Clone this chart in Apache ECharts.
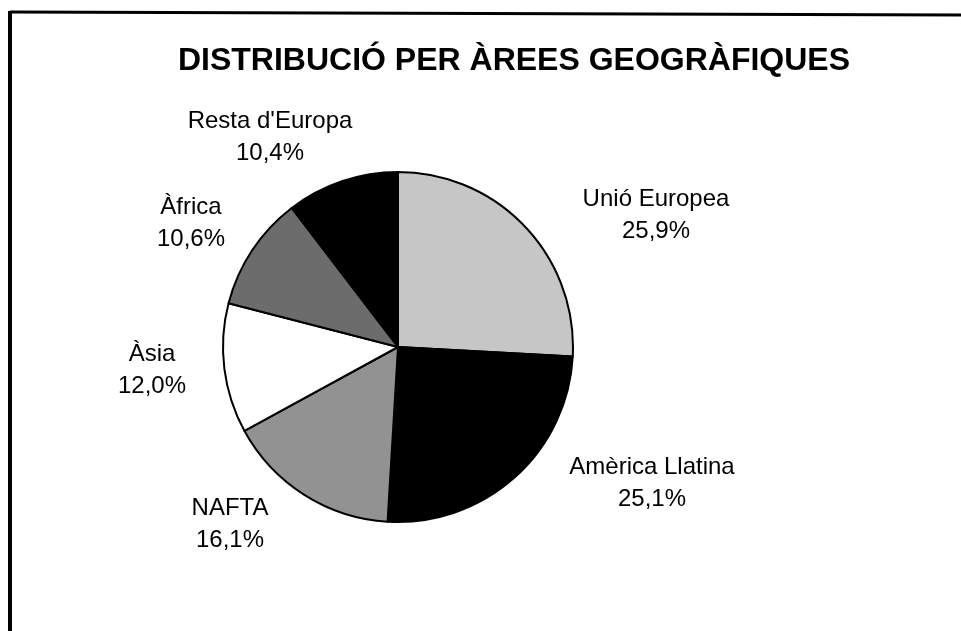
<!DOCTYPE html>
<html>
<head>
<meta charset="utf-8">
<title>Distribució per àrees geogràfiques</title>
<script src="https://cdn.jsdelivr.net/npm/echarts@6/dist/echarts.min.js"></script>
<style>
  html, body { margin: 0; padding: 0; background: #fff; }
  #chart { width: 961px; height: 631px; }
</style>
</head>
<body>
<div id="chart"></div>
<script>
// -- Data --
const regions = ['Unió Europea', 'Amèrica Llatina', 'NAFTA', 'Àsia', 'Àfrica', "Resta d'Europa"];
const shares = [25.9, 25.1, 16.1, 12.0, 10.6, 10.4];

// Greyscale fills, in slice order
const fills = ['#c6c6c6', '#000000', '#929292', '#ffffff', '#6c6c6c', '#000000'];

// Label centres (Excel placed them by hand, so we do too)
const labelSpots = [
  [656, 215], [652, 483], [230, 524], [152, 370], [191, 223], [270, 137]
];

const FONT = '"Liberation Sans", Arial, sans-serif';

const chart = echarts.init(document.getElementById('chart'), null, { renderer: 'canvas' });

chart.setOption({
  backgroundColor: '#fff',
  animation: false,
  title: {
    text: 'DISTRIBUCIÓ PER ÀREES GEOGRÀFIQUES',
    left: 509,
    top: 40,
    textAlign: 'center',
    textStyle: { fontFamily: FONT, fontSize: 32, fontWeight: 'bold', color: '#000' }
  },
  // frame: only top and left edges survive on the scan
  graphic: [
    { type: 'line', shape: { x1: 10, y1: 12, x2: 961, y2: 15 }, style: { stroke: '#000', lineWidth: 3 } },
    { type: 'line', shape: { x1: 10, y1: 11, x2: 10, y2: 631 }, style: { stroke: '#000', lineWidth: 4 } }
  ],
  series: [{
    type: 'pie',
    center: [398, 347],
    radius: [0, 175],
    startAngle: 90,
    clockwise: true,
    avoidLabelOverlap: false,
    data: regions.map((name, i) => ({
      name,
      value: shares[i],
      itemStyle: { color: fills[i] }
    })),
    itemStyle: { borderColor: '#000', borderWidth: 2 },
    label: {
      show: true,
      position: 'outside',
      fontFamily: FONT,
      fontSize: 24,
      lineHeight: 32,
      color: '#000',
      align: 'center',
      formatter: p => p.name + '\n' + p.value.toFixed(1).replace('.', ',') + '%'
    },
    labelLine: { show: false },
    labelLayout: p => ({
      x: labelSpots[p.dataIndex][0],
      y: labelSpots[p.dataIndex][1],
      align: 'center',
      verticalAlign: 'middle'
    }),
    emphasis: { disabled: true }
  }]
});

window.addEventListener('resize', () => chart.resize());
</script>
</body>
</html>
